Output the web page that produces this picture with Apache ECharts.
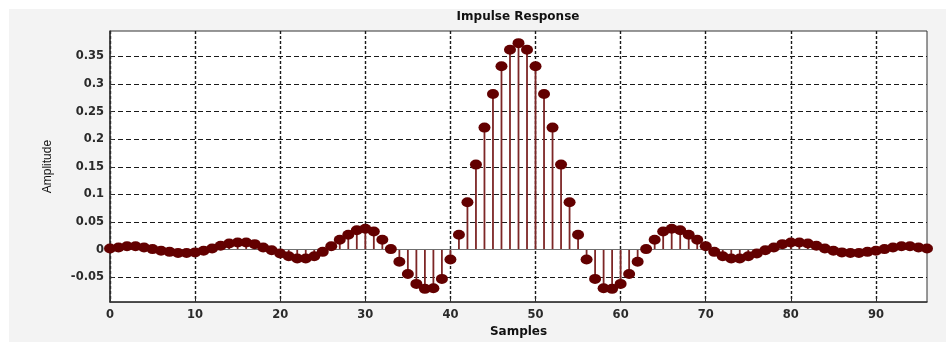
<!DOCTYPE html>
<html>
<head>
<meta charset="utf-8">
<title>Impulse Response</title>
<script src="https://cdn.jsdelivr.net/npm/echarts@6/dist/echarts.min.js"></script>
<style>
  html, body { margin: 0; padding: 0; background: #fff; }
  #chart { width: 946px; height: 343px; }
</style>
</head>
<body>
<div id="chart"></div>
<script>
// Filter impulse response, one value per sample index (0..96)
const amplitude = [
  0.002, 0.004, 0.006, 0.006, 0.004, 0.001, -0.002, -0.004, -0.006, -0.006,
  -0.005, -0.002, 0.002, 0.007, 0.011, 0.013, 0.013, 0.010, 0.004, -0.001,
  -0.007, -0.012, -0.016, -0.016, -0.012, -0.004, 0.006, 0.018, 0.027, 0.035,
  0.038, 0.033, 0.018, 0.001, -0.022, -0.044, -0.062, -0.071, -0.070, -0.053,
  -0.018, 0.027, 0.086, 0.154, 0.221, 0.282, 0.332, 0.362, 0.374, 0.362,
  0.332, 0.282, 0.221, 0.154, 0.086, 0.027, -0.018, -0.053, -0.070, -0.071,
  -0.062, -0.044, -0.022, 0.001, 0.018, 0.033, 0.038, 0.035, 0.027, 0.018,
  0.006, -0.004, -0.012, -0.016, -0.016, -0.012, -0.007, -0.001, 0.004, 0.010,
  0.013, 0.013, 0.011, 0.007, 0.002, -0.002, -0.005, -0.006, -0.006, -0.004,
  -0.002, 0.001, 0.004, 0.006, 0.006, 0.004, 0.002
];

const xTicks = [0, 10, 20, 30, 40, 50, 60, 70, 80, 90];
const yTicks = [-0.05, 0, 0.05, 0.1, 0.15, 0.2, 0.25, 0.3, 0.35];

const titleText = 'Impulse Response';
const xName = 'Samples';
const yName = 'Amplitude';

const points = amplitude.map((v, i) => [i, v]);

const chart = echarts.init(document.getElementById('chart'), null, { renderer: 'canvas' });

const labelFont = { fontFamily: 'DejaVu Sans', fontWeight: 'bold', fontSize: 11.5, color: '#2a2a2a' };

chart.setOption({
  backgroundColor: '#f3f3f3',
  animation: false,
  graphic: [
    { type: 'rect', left: 0, top: 0, shape: { width: 946, height: 9 }, style: { fill: '#ffffff' } },
    { type: 'rect', left: 0, top: 0, shape: { width: 9, height: 343 }, style: { fill: '#ffffff' } },
    { type: 'rect', left: 0, top: 342, shape: { width: 946, height: 1 }, style: { fill: '#ffffff' } }
  ],
  title: {
    text: titleText,
    left: 518,
    top: 10,
    padding: 0,
    textAlign: 'center',
    textStyle: { fontFamily: 'DejaVu Sans', fontWeight: 'bold', fontSize: 12, color: '#111', lineHeight: 14 }
  },
  grid: {
    left: 110, top: 31, right: 19, bottom: 33,
    show: true,
    backgroundColor: '#ffffff',
    borderColor: '#333333',
    borderWidth: 1
  },
  xAxis: {
    type: 'value',
    min: 0,
    max: 96,
    name: xName,
    nameLocation: 'middle',
    nameGap: 20,
    nameTextStyle: { fontFamily: 'DejaVu Sans', fontWeight: 'bold', fontSize: 12, color: '#111' },
    axisLine: { show: true, onZero: false, lineStyle: { color: '#333', width: 1.5 } },
    axisTick: { show: true, inside: true, length: 4, customValues: xTicks, lineStyle: { color: '#333' } },
    axisLabel: Object.assign({ margin: 7, customValues: xTicks }, labelFont),
    splitLine: { show: true, lineStyle: { color: '#1a1a1a', width: 1.4, type: [3, 2] } }
  },
  yAxis: {
    type: 'value',
    min: -0.095,
    max: 0.396,
    name: yName,
    nameLocation: 'middle',
    nameRotate: 90,
    nameGap: 56,
    nameTextStyle: { fontFamily: 'Liberation Sans', fontSize: 12, color: '#111' },
    axisLine: { show: true, lineStyle: { color: '#333', width: 1.5 } },
    axisTick: { show: true, inside: true, length: 4, customValues: yTicks, lineStyle: { color: '#333' } },
    axisLabel: Object.assign({ margin: 6, customValues: yTicks }, labelFont),
    splitLine: { show: true, lineStyle: { color: '#1a1a1a', width: 1, type: [5, 3] } }
  },
  series: [
    {
      name: 'stems',
      type: 'bar',
      data: points,
      barWidth: 1.8,
      itemStyle: { color: '#7d2626' },
      silent: true,
      markLine: {
        silent: true,
        symbol: ['none', 'none'],
        label: { show: false },
        lineStyle: { color: '#6f6f6f', width: 1, type: 'solid' },
        data: [{ yAxis: 0 }]
      }
    },
    {
      name: 'samples',
      type: 'scatter',
      data: points,
      symbol: 'circle',
      symbolSize: [12, 10],
      itemStyle: { color: '#630000', opacity: 1 },
      z: 5
    }
  ]
});
</script>
</body>
</html>
